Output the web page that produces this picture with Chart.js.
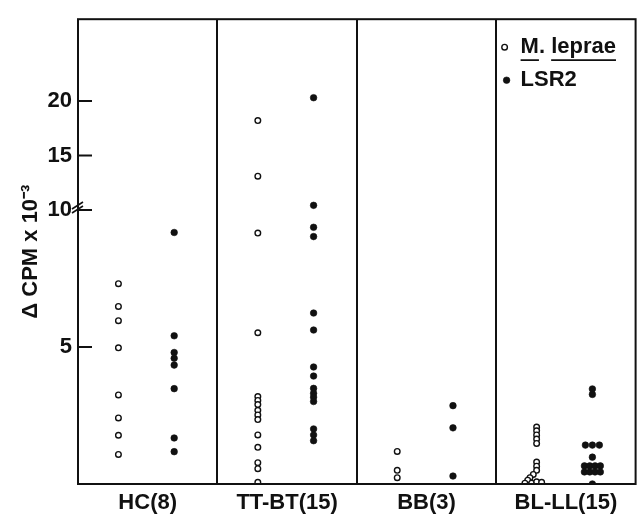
<!DOCTYPE html>
<html>
<head>
<meta charset="utf-8">
<script src="https://cdn.jsdelivr.net/npm/chart.js@4/dist/chart.umd.min.js"></script>
<style>
  html, body { margin: 0; padding: 0; background: #fff; }
  canvas { display: block; }
</style>
</head>
<body>
<canvas id="c" width="641" height="517" style="width:641px;height:517px"></canvas>
<script>
// ---------------- data ----------------
const categories = ['HC(8)', 'TT-BT(15)', 'BB(3)', 'BL-LL(15)'];
const seriesNames = ['M. leprae', 'LSR2'];
const yTickValues = [5, 10, 15, 20];
const yAxisTitle = 'Δ CPM x 10⁻³';
const yBreakAt = 10;

// M. leprae (open circles), ΔCPM x 10^-3 per subject
const lepraeHC   = [7.31, 6.48, 5.96, 4.97, 3.25, 2.41, 1.78, 1.08];
const lepraeTTBT = [18.2, 13.1, 9.16, 5.52, 3.19, 3.05, 2.90, 2.69, 2.52, 2.35, 1.79, 1.34, 0.78, 0.56, 0.06];
const lepraeBB   = [1.19, 0.50, 0.23];
const lepraeBLLL = [2.08, 1.94, 1.79, 1.64, 1.48, 0.80, 0.65, 0.50, 0.35, 0.23, 0.14, 0.03, 0.03, 0.08, 0.06];
// horizontal jitter of overlapping points (fraction of a group width)
const lepraeBLLLJitter = [0, 0, 0, 0, 0, 0, 0, 0, -0.024, -0.048, -0.064, -0.084, -0.036, 0, 0.036];

// LSR2 (filled circles)
const lsr2HC   = [9.18, 5.41, 4.80, 4.59, 4.34, 3.48, 1.68, 1.18];
const lsr2TTBT = [20.3, 10.43, 9.37, 9.03, 6.24, 5.62, 4.27, 3.94, 3.49, 3.31, 3.17, 3.01, 2.01, 1.79, 1.58];
const lsr2BB   = [2.86, 2.05, 0.29];
const lsr2BLLL = [3.47, 3.27, 1.42, 1.42, 1.42, 0.98, 0.66, 0.66, 0.66, 0.66, 0.44, 0.44, 0.44, 0.44, 0.00];
const lsr2BLLLJitter = [0, 0, -0.05, 0, 0.05, 0, -0.057, -0.019, 0.019, 0.057, -0.057, -0.019, 0.019, 0.057, 0];

// ---------------- broken (piecewise linear) y scale ----------------
const upperCompression = 0.398; // scale factor above the break
function tf(v) { return v <= yBreakAt ? v : yBreakAt + (v - yBreakAt) * upperCompression; }
function itf(t) { return t <= yBreakAt ? t : yBreakAt + (t - yBreakAt) / upperCompression; }

class BrokenScale extends Chart.LinearScale {
  getPixelForValue(value) {
    if (value === null || value === undefined || isNaN(value)) return NaN;
    const t0 = tf(this.min), t1 = tf(this.max);
    return this.getPixelForDecimal((tf(value) - t0) / (t1 - t0));
  }
  getValueForPixel(pixel) {
    const t0 = tf(this.min), t1 = tf(this.max);
    return itf(t0 + this.getDecimalForPixel(pixel) * (t1 - t0));
  }
}
BrokenScale.id = 'broken';
Chart.register(BrokenScale);

// ---------------- build points ----------------
const openOffset = 0.29, filledOffset = 0.69;
function pts(groupIndex, offset, values, jitter) {
  return values.map((v, i) => ({ x: groupIndex + offset + (jitter ? jitter[i] : 0), y: v }));
}
const lepraePts = [].concat(
  pts(0, openOffset, lepraeHC), pts(1, openOffset, lepraeTTBT),
  pts(2, openOffset, lepraeBB), pts(3, openOffset, lepraeBLLL, lepraeBLLLJitter));
const lsr2Pts = [].concat(
  pts(0, filledOffset, lsr2HC), pts(1, filledOffset, lsr2TTBT),
  pts(2, filledOffset, lsr2BB), pts(3, filledOffset, lsr2BLLL, lsr2BLLLJitter));

const INK = '#111';
const FONT = { family: "'Liberation Sans', Arial, sans-serif", size: 22, weight: 'bold' };

// ---------------- decorations: frame, inward ticks, axis break, legend ----------------
const decor = {
  id: 'decor',
  afterDraw(chart) {
    const { ctx, chartArea: a, scales: { y } } = chart;
    ctx.save();
    ctx.strokeStyle = INK;
    ctx.lineWidth = 2;
    ctx.strokeRect(a.left, a.top, a.right - a.left, a.bottom - a.top);
    // inward tick marks
    ctx.lineWidth = 2;
    yTickValues.forEach(v => {
      const py = y.getPixelForValue(v);
      ctx.beginPath(); ctx.moveTo(a.left, py); ctx.lineTo(a.left + 14, py); ctx.stroke();
    });
    // axis break mark
    const pb = y.getPixelForValue(yBreakAt);
    ctx.lineWidth = 1.6;
    ctx.beginPath();
    ctx.moveTo(a.left - 6, pb - 1); ctx.lineTo(a.left + 5, pb - 8);
    ctx.moveTo(a.left - 6, pb + 3); ctx.lineTo(a.left + 5, pb - 4);
    ctx.stroke();

    // legend
    ctx.font = `${FONT.weight} ${FONT.size}px ${FONT.family}`;
    ctx.textBaseline = 'middle';
    ctx.fillStyle = INK;
    const ds = chart.data.datasets;
    const lx = a.right - 131, tx = a.right - 115;
    const rows = [a.top + 28, a.top + 61];
    ds.forEach((d, i) => {
      const cy = rows[i];
      ctx.beginPath();
      ctx.arc(lx + (i === 0 ? 0 : 2), cy, d.pointRadius, 0, Math.PI * 2);
      ctx.fillStyle = d.backgroundColor; ctx.fill();
      ctx.lineWidth = d.pointBorderWidth; ctx.strokeStyle = d.borderColor; ctx.stroke();
      ctx.fillStyle = INK;
      ctx.fillText(d.label, tx, cy);
    });
    // underline genus / species of the first label
    const lab = ds[0].label;
    const parts = lab.split(' ');
    const uy = rows[0] + 13;
    ctx.lineWidth = 1.8; ctx.strokeStyle = INK;
    const wM = ctx.measureText(parts[0].replace('.', '')).width;
    const wPrefix = ctx.measureText(parts[0] + ' ').width;
    const wSp = ctx.measureText(parts[1]).width;
    ctx.beginPath();
    ctx.moveTo(tx, uy); ctx.lineTo(tx + wM, uy);
    ctx.moveTo(tx + wPrefix, uy); ctx.lineTo(tx + wPrefix + wSp, uy);
    ctx.stroke();
    ctx.restore();
  }
};

new Chart(document.getElementById('c'), {
  type: 'scatter',
  data: {
    datasets: [
      { label: seriesNames[0], data: lepraePts, pointStyle: 'circle', pointRadius: 2.8,
        pointBorderWidth: 1.4, borderColor: INK, backgroundColor: '#fff' },
      { label: seriesNames[1], data: lsr2Pts, pointStyle: 'circle', pointRadius: 3.3,
        pointBorderWidth: 0.6, borderColor: INK, backgroundColor: INK }
    ]
  },
  options: {
    responsive: false,
    animation: false,
    events: [],
    layout: { padding: { top: 11, right: 3, left: 0, bottom: 0 } },
    plugins: { legend: { display: false }, tooltip: { enabled: false } },
    scales: {
      x: {
        type: 'linear', min: 0, max: categories.length,
        afterBuildTicks: s => {
          const t = [];
          categories.forEach((c, i) => { t.push({ value: i + 0.5 }); if (i > 0) t.push({ value: i }); });
          s.ticks = t.sort((p, q) => p.value - q.value);
        },
        ticks: {
          autoSkip: false, maxRotation: 0, padding: 6, color: INK, font: FONT,
          callback: v => Number.isInteger(v) ? '' : categories[Math.floor(v)]
        },
        grid: {
          drawTicks: false,
          lineWidth: 2,
          color: c => (c.tick && Number.isInteger(c.tick.value)) ? INK : 'rgba(0,0,0,0)'
        },
        border: { display: false },
        afterFit: s => { s.height = 33; }
      },
      y: {
        type: 'broken', min: 0, max: 27.5,
        afterBuildTicks: s => { s.ticks = yTickValues.map(v => ({ value: v })); },
        ticks: { padding: 6, color: INK, font: FONT, callback: v => String(v) },
        grid: { display: false, drawTicks: false },
        border: { display: false },
        title: { display: true, text: yAxisTitle, color: INK, font: FONT, padding: { top: 18, bottom: 0 } },
        afterFit: s => { s.width = 78; }
      }
    }
  },
  plugins: [decor]
});
</script>
</body>
</html>
